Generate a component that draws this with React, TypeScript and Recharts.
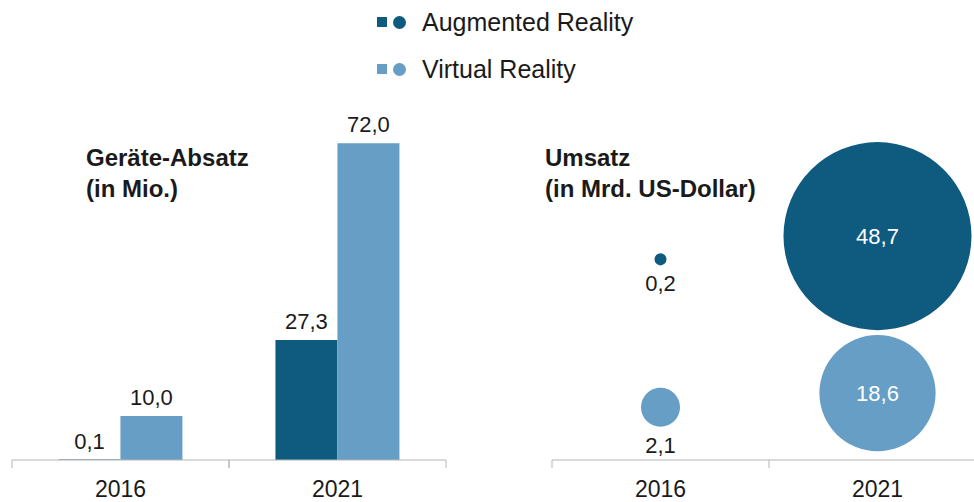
import { BarChart, Bar, XAxis, YAxis, LabelList, ScatterChart, Scatter, ZAxis } from 'recharts';

const years = ['2016', '2021'];
const unitsAR = [0.1, 27.3];
const unitsVR = [10.0, 72.0];
const revenueAR = [0.2, 48.7];
const revenueVR = [2.1, 18.6];
// vertical placement of the bubbles (hidden y axis, 0..100)
const bubbleRowAR = [57, 63.6];
const bubbleRowVR = [15, 19];
const edgeTicks = [0, 0.5, 1, 1.5, 2];

const DARK = '#0f5b80';
const LIGHT = '#669ec5';
const TEXT = '#1a1a1a';
const AXIS = '#b5b5b5';
const FONT = '"Liberation Sans", Arial, sans-serif';

const fmt = (v: number) => v.toFixed(1).replace('.', ',');

const unitsData = years.map((year, i) => ({ year, ar: unitsAR[i], vr: unitsVR[i] }));
const arBubbles = years.map((year, i) => ({ x: i + 0.5, y: bubbleRowAR[i], z: revenueAR[i] }));
const vrBubbles = years.map((year, i) => ({ x: i + 0.5, y: bubbleRowVR[i], z: revenueVR[i] }));
const zMax = Math.max(...revenueAR, ...revenueVR);

const YearText = ({ x, y, label }: { x: number; y: number; label: string }) => (
  <text x={x} y={y} dy={29} textAnchor="middle" fontSize={23} fill={TEXT} fontFamily={FONT}>
    {label}
  </text>
);

// category axis: year label plus small tick lines at both edges of the band
const BandTick = (props: any) => {
  const { x, y, payload } = props;
  const half = payload.offset ?? 0;
  return (
    <g>
      <line x1={x - half} x2={x - half} y1={y - 8} y2={y} stroke={AXIS} />
      <line x1={x + half} x2={x + half} y1={y - 8} y2={y} stroke={AXIS} />
      <YearText x={x} y={y} label={payload.value} />
    </g>
  );
};

// number axis: integer positions get a tick line, half positions get the year
const EdgeTick = (props: any) => {
  const { x, y, payload } = props;
  const v = payload.value;
  if (Number.isInteger(v)) {
    return <line x1={x} x2={x} y1={y - 8} y2={y} stroke={AXIS} />;
  }
  return <YearText x={x} y={y} label={years[Math.floor(v)]} />;
};

const BubbleLabel = (props: any) => {
  const vb = props.viewBox ?? props;
  const { value } = props;
  const w = vb.width ?? 0;
  const h = vb.height ?? 0;
  const cx = vb.x + w / 2;
  const cy = vb.y + h / 2;
  if (value > 10) {
    return (
      <text x={cx} y={cy} dy={8} textAnchor="middle" fontSize={22} fill="#ffffff" fontFamily={FONT}>
        {fmt(value)}
      </text>
    );
  }
  return (
    <text x={cx} y={cy + h / 2} dy={26} textAnchor="middle" fontSize={22} fill={TEXT} fontFamily={FONT}>
      {fmt(value)}
    </text>
  );
};

const legendRow = (color: string, label: string, top: number) => (
  <div style={{ position: 'absolute', left: 377, top, display: 'flex', alignItems: 'center', height: 26 }}>
    <div style={{ width: 10, height: 10, background: color }} />
    <div style={{ width: 13, height: 13, borderRadius: '50%', background: color, marginLeft: 6 }} />
    <div style={{ marginLeft: 16, fontSize: 25, color: TEXT, fontFamily: FONT }}>{label}</div>
  </div>
);

const titleStyle: React.CSSProperties = {
  position: 'absolute',
  fontFamily: FONT,
  fontWeight: 'bold',
  fontSize: 24,
  lineHeight: '31px',
  color: TEXT,
};

export default function App() {
  return (
    <div style={{ position: 'absolute', left: 0, top: 0, width: 974, height: 502, overflow: 'hidden', background: '#fff' }}>
      {legendRow(DARK, 'Augmented Reality', 9)}
      {legendRow(LIGHT, 'Virtual Reality', 56)}

      <div style={{ ...titleStyle, left: 86, top: 142 }}>
        Geräte-Absatz<br />(in Mio.)
      </div>
      <div style={{ ...titleStyle, left: 545, top: 142 }}>
        Umsatz<br />(in Mrd. US-Dollar)
      </div>

      <div style={{ position: 'absolute', left: 0, top: 0 }}>
        <BarChart
          width={460}
          height={502}
          data={unitsData}
          margin={{ top: 108, right: 14, bottom: 0, left: 12 }}
          barGap={0}
          barCategoryGap="21.4%"
        >
          <XAxis
            dataKey="year"
            height={42}
            interval={0}
            axisLine={{ stroke: AXIS }}
            tickLine={false}
            tick={<BandTick />}
          />
          <YAxis hide domain={[0, 80]} />
          <Bar dataKey="ar" fill={DARK} isAnimationActive={false}>
            <LabelList dataKey="ar" position="top" offset={11} formatter={(v: any) => fmt(v)} fontSize={22} fill={TEXT} fontFamily={FONT} />
          </Bar>
          <Bar dataKey="vr" fill={LIGHT} isAnimationActive={false}>
            <LabelList dataKey="vr" position="top" offset={11} formatter={(v: any) => fmt(v)} fontSize={22} fill={TEXT} fontFamily={FONT} />
          </Bar>
        </BarChart>
      </div>

      <div style={{ position: 'absolute', left: 540, top: 0 }}>
        <ScatterChart width={460} height={502} margin={{ top: 108, right: 14, bottom: 0, left: 12 }}>
          <XAxis
            type="number"
            dataKey="x"
            domain={[0, 2]}
            allowDataOverflow
            ticks={edgeTicks}
            interval={0}
            height={42}
            axisLine={{ stroke: AXIS }}
            tickLine={false}
            tick={<EdgeTick />}
          />
          <YAxis type="number" dataKey="y" hide domain={[0, 100]} />
          <ZAxis type="number" dataKey="z" domain={[0, zMax]} range={[0, Math.PI * 94 * 94]} />
          <Scatter data={arBubbles} fill={DARK} isAnimationActive={false}>
            <LabelList dataKey="z" content={<BubbleLabel />} />
          </Scatter>
          <Scatter data={vrBubbles} fill={LIGHT} isAnimationActive={false}>
            <LabelList dataKey="z" content={<BubbleLabel />} />
          </Scatter>
        </ScatterChart>
      </div>
    </div>
  );
}
